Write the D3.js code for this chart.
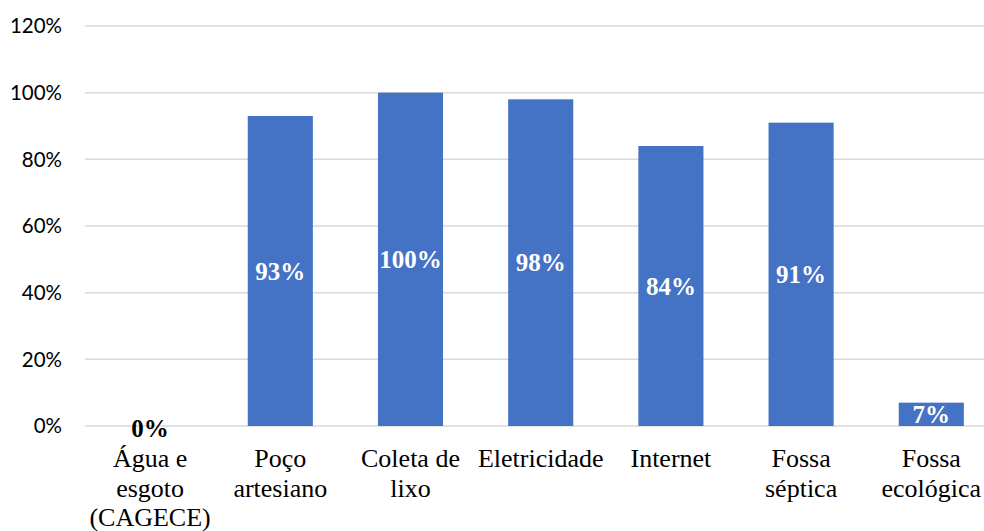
<!DOCTYPE html>
<html><head><meta charset="utf-8">
<script src="https://cdn.jsdelivr.net/npm/d3@7"></script>
<style>body{margin:0;background:#fff}svg{display:block}</style>
</head><body>
<svg id="c" width="984" height="531"></svg>
<script>
const categories = ["Água e esgoto (CAGECE)", "Poço artesiano", "Coleta de lixo", "Eletricidade", "Internet", "Fossa séptica", "Fossa ecológica"];
const labelLines = [["Água e", "esgoto", "(CAGECE)"], ["Poço", "artesiano"], ["Coleta de", "lixo"], ["Eletricidade"], ["Internet"], ["Fossa", "séptica"], ["Fossa", "ecológica"]];
const values = [0, 93, 100, 98, 84, 91, 7];
const yTicks = [0, 20, 40, 60, 80, 100, 120];

const svg = d3.select("#c");
const x = d3.scaleBand().domain(categories).range([85, 996.4]).paddingInner(0.5).paddingOuter(0.25);
const y = d3.scaleLinear().domain([0, 120]).range([426, 26]);

// gridlines
svg.append("g").selectAll("line").data(yTicks).join("line")
  .attr("x1", 85).attr("x2", 984)
  .attr("y1", d => y(d)).attr("y2", d => y(d))
  .attr("stroke", "#d9d9d9").attr("stroke-width", 1.5);

// y tick labels
svg.append("g").selectAll("text").data(yTicks).join("text")
  .attr("x", 62).attr("y", d => y(d)).attr("dy", "0.36em")
  .attr("text-anchor", "end")
  .attr("font-family", "Lato, 'Open Sans', sans-serif").attr("font-size", 20.5)
  .attr("fill", "#000").text(d => d + "%");

// bars
svg.append("g").selectAll("rect").data(values).join("rect")
  .attr("x", (d, i) => x(categories[i])).attr("width", x.bandwidth())
  .attr("y", d => y(d)).attr("height", d => y(0) - y(d))
  .attr("fill", "#4472C4");

// data labels
svg.append("g").selectAll("text").data(values).join("text")
  .attr("x", (d, i) => x(categories[i]) + x.bandwidth() / 2)
  .attr("y", d => d === 0 ? y(0) + 2 : (y(d) + y(0)) / 2)
  .attr("dy", "0.35em")
  .attr("text-anchor", "middle")
  .attr("font-family", "'Liberation Serif', 'Times New Roman', serif")
  .attr("font-weight", "bold").attr("font-size", 25)
  .attr("fill", d => d === 0 ? "#000" : "#fff")
  .text(d => d + "%");

// x labels
const xl = svg.append("g").selectAll("text").data(categories).join("text")
  .attr("x", d => x(d) + x.bandwidth() / 2)
  .attr("y", 467)
  .attr("text-anchor", "middle")
  .attr("font-family", "'Liberation Serif', 'Times New Roman', serif")
  .attr("font-size", 26).attr("fill", "#000");
xl.each(function(d, i) {
  d3.select(this).selectAll("tspan").data(labelLines[i]).join("tspan")
    .attr("x", x(d) + x.bandwidth() / 2)
    .attr("dy", (t, j) => j === 0 ? 0 : 29.5)
    .text(t => t);
});
</script>
</body></html>
